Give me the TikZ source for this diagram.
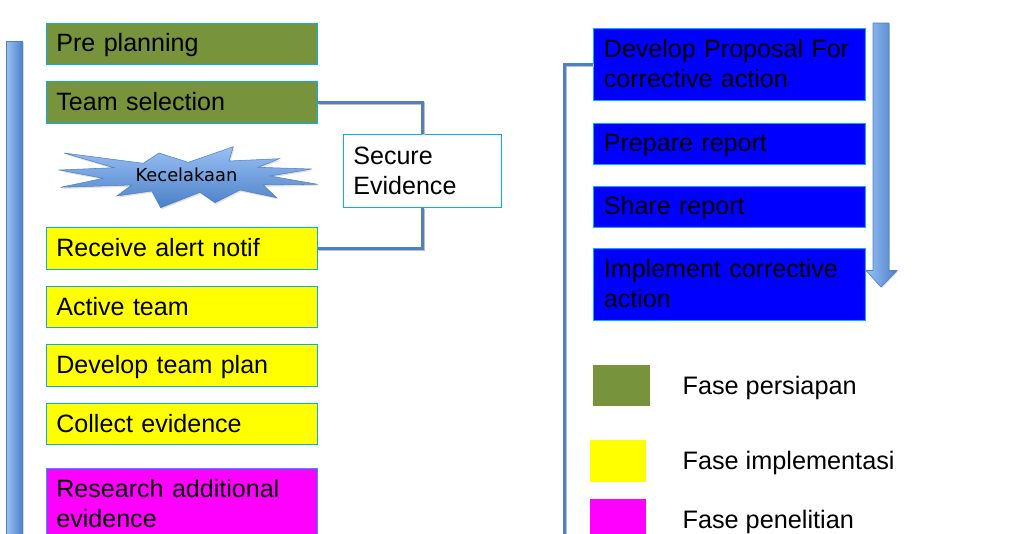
\documentclass[tikz,border=0pt]{standalone}
\usepackage{fontspec}
\setmainfont{Liberation Sans}
\newfontfamily\starfont{DejaVu Sans}
\usetikzlibrary{shadows}

\definecolor{boxline}{HTML}{00B0F0}
\definecolor{olivebox}{HTML}{77933C}
\definecolor{keyyellowfill}{HTML}{FFFF00}
\definecolor{keymagentafill}{HTML}{FF00FF}
\definecolor{keybluefill}{HTML}{0000FF}
\definecolor{linkblue}{HTML}{4F81BD}
\definecolor{barlight}{HTML}{9AC0F5}
\definecolor{bardark}{HTML}{4A80C8}

\newcommand{\boxstrut}{\rule[-3.35pt]{0pt}{19.15pt}}

\tikzset{
    phasebox/.style={draw=boxline,line width=0.75pt,minimum width=203.25pt,text width=188.4pt,
        inner xsep=7.4pt,inner ysep=0pt,align=left,text=black,
        font=\fontsize{18.8}{22.5}\selectfont,
        execute at begin node=\boxstrut,execute at end node=\boxstrut},
    swatch/.style={minimum width=42.5pt,minimum height=31pt,inner sep=0pt},
    legendtext/.style={anchor=west,inner sep=0pt,font=\fontsize{18.95}{22.5}\selectfont,
        execute at begin node=\boxstrut},
    link/.style={draw=linkblue,line width=2.2pt,
        preaction={draw=black!25,line width=2.2pt,transform canvas={xshift=0.6pt,yshift=-1pt}}},
    bar/.style={left color=barlight,right color=bardark,draw=linkblue,line width=0.5pt,
        drop shadow={shadow xshift=0.8pt,shadow yshift=-0.8pt,opacity=0.3}},
}

\begin{document}
\begin{tikzpicture}[x=0.75pt,y=-0.75pt]
    \useasboundingbox (0,0) rectangle (1015,533);
    \clip (0,0) rectangle (1015,533);

    \draw[bar] (6.5,41) rectangle (22.5,560);
    \draw[bar] (873,23) -- (889,23) -- (889,270.5) -- (897,270.5) -- (881,287) -- (866,270.5) -- (873,270.5) -- cycle;

    \draw[top color=barlight,bottom color=bardark,draw=linkblue,line width=0.4pt,
        drop shadow={shadow xshift=0.8pt,shadow yshift=-1.2pt,opacity=0.25}]
        (64,153) -- (143.3,163.3) -- (159,153) -- (188.3,162.3) -- (233.3,146.7) -- (229,161)
        -- (279.3,158.7) -- (258.3,167.3) -- (311.7,169) -- (270,176) -- (317.7,184.3)
        -- (263.3,185) -- (276.7,197.7) -- (240,190) -- (215,202.7) -- (200,192.3)
        -- (160.7,207.7) -- (151.7,191) -- (116.7,196) -- (131.7,185) -- (60.7,187.3)
        -- (103.3,178.3) -- (59.3,170) -- (114,167.7) -- cycle;
    \node[inner sep=0pt,font=\starfont\fontsize{13.4}{16}\selectfont] (crash) at (186.5,175) {Kecelakaan};

    \node[phasebox,fill=olivebox,minimum height=30.75pt] (preplan) at (182,44) {Pre planning};
    \node[phasebox,fill=olivebox,minimum height=31.5pt] (team) at (182,102.5) {Team selection};
    \node[phasebox,fill=keyyellowfill,minimum height=31.5pt] (alert) at (182,248.5) {Receive alert notif};
    \node[phasebox,fill=keyyellowfill,minimum height=30.75pt] (active) at (182,307) {Active team};
    \node[phasebox,fill=keyyellowfill,minimum height=31.5pt] (plan) at (182,365.5) {Develop team plan};
    \node[phasebox,fill=keyyellowfill,minimum height=30.75pt] (collect) at (182,424) {Collect evidence};
    \node[phasebox,fill=keymagentafill,minimum height=54pt] (research) at (182,504.5) {Research additional\\evidence};

    \node[phasebox,fill=white,minimum width=118.5pt,text width=103.7pt,minimum height=54.75pt] (secure) at (422.5,171) {Secure\\Evidence};

    \node[phasebox,fill=keybluefill,minimum width=204pt,minimum height=54pt] (proposal) at (729.5,64.5) {Develop Proposal For\\corrective action};
    \node[phasebox,fill=keybluefill,minimum width=204pt,minimum height=30.75pt] (prepare) at (729.5,144) {Prepare report};
    \node[phasebox,fill=keybluefill,minimum width=204pt,minimum height=30.75pt] (share) at (729.5,207) {Share report};
    \node[phasebox,fill=keybluefill,minimum width=204pt,minimum height=54pt] (implement) at (729.5,284.5) {Implement corrective\\action};

    % legend
    \node[swatch,fill=olivebox] (keygreen) at (621.5,385.5) {};
    \node[swatch,fill=keyyellowfill] (keyyellow) at (618,461) {};
    \node[swatch,fill=keymagentafill] (keymagenta) at (618,520) {};
    \node[legendtext] (textgreen) at (682.3,387) {Fase persiapan};
    \node[legendtext] (textyellow) at (682.3,462) {Fase implementasi};
    \node[legendtext] (textmagenta) at (682.3,521) {Fase penelitian};

    \coordinate (linkend) at (564.5,560);
    \draw[link] (team.east) -| (secure.north);
    \draw[link] (alert.east) -| (secure.south);
    \draw[link] (proposal.west) -| (linkend);
\end{tikzpicture}
\end{document}
